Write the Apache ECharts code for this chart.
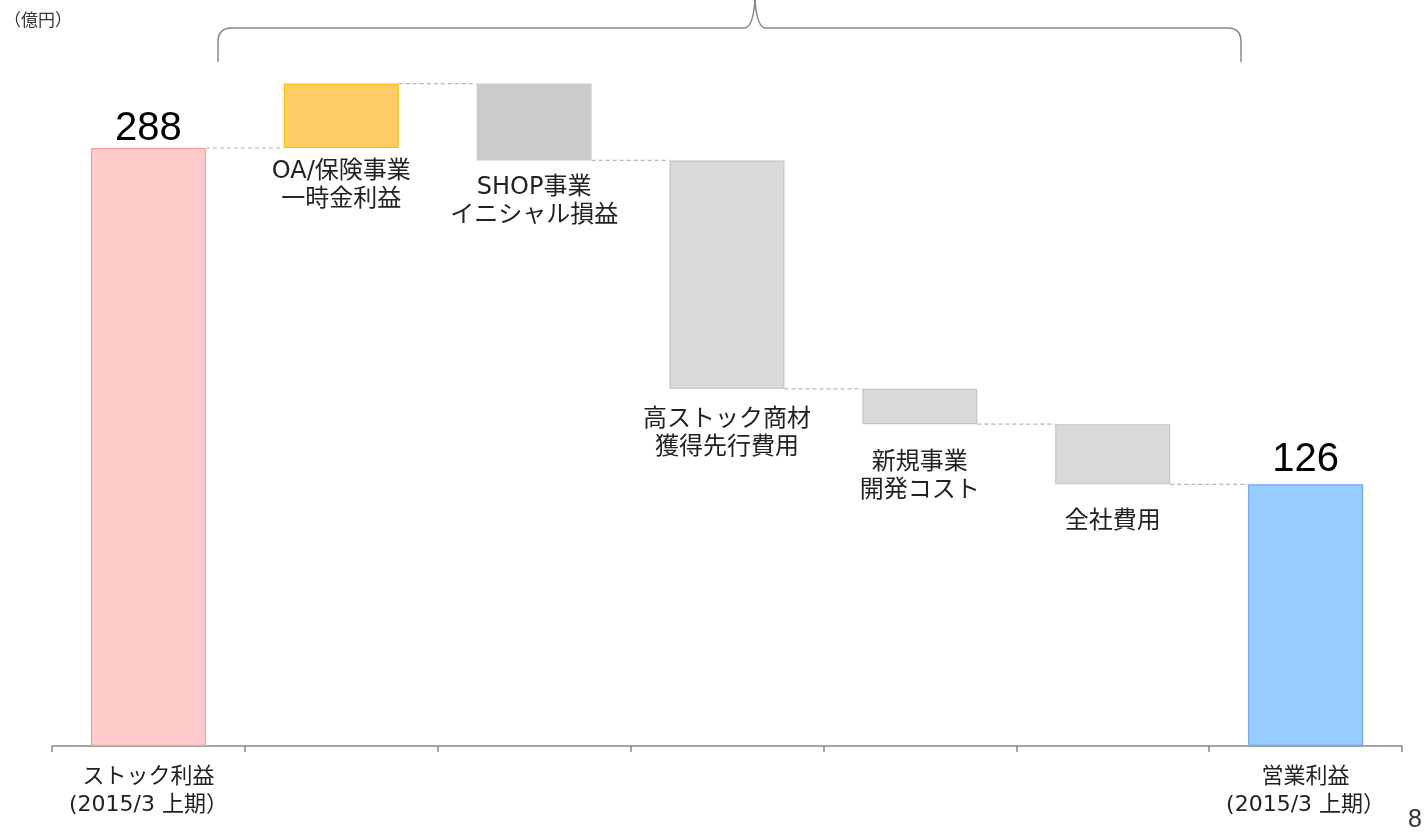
<!DOCTYPE html>
<html>
<head>
<meta charset="utf-8">
<script src="https://cdn.jsdelivr.net/npm/echarts@6/dist/echarts.min.js"></script>
<style>
  html, body { margin: 0; padding: 0; background: #fff; }
  #chart { width: 1428px; height: 839px; }
</style>
</head>
<body>
<div id="chart"></div>
<script>
// Operating profit bridge (億円)
const categories = ['ストック利益\n(2015/3 上期）', 'OA/保険事業\n一時金利益', 'SHOP事業\nイニシャル損益',
  '高ストック商材\n獲得先行費用', '新規事業\n開発コスト', '全社費用', '営業利益\n(2015/3 上期）'];
const startValue = 288;
const deltas = [31, -37, -110, -17, -29];
const endValue = 126;

const fills = ['#ffcccc', '#ffcc66', '#cbcbcb', '#d9d9d9', '#d9d9d9', '#d9d9d9', '#99ccff'];
const borders = ['#ff9a9a', '#ffc000', '#cbcbcb', '#c4c4c4', '#c4c4c4', '#c4c4c4', '#6aa5ff'];
const labelGaps = [-1, 10, 13, 17, 25, 23, 4];

const TEXT_FONT = '"DejaVu Sans", "Noto Sans CJK JP", sans-serif';
const NUM_FONT = '"Liberation Sans", Arial, sans-serif';

// running totals after each step
const levels = [startValue];
deltas.forEach(d => levels.push(levels[levels.length - 1] + d));
levels.push(endValue);

const baseData = [];
const barData = [];
const n = categories.length;
for (let i = 0; i < n; i++) {
  const isEnd = i === 0 || i === n - 1;
  let base, height;
  if (isEnd) { base = 0; height = levels[i]; }
  else {
    const d = deltas[i - 1];
    base = d >= 0 ? levels[i - 1] : levels[i];
    height = Math.abs(d);
  }
  baseData.push(base);
  barData.push({
    value: height,
    itemStyle: { color: fills[i], borderColor: borders[i], borderWidth: 1.2 },
    label: isEnd ? {
      show: true, position: 'top', distance: labelGaps[i],
      formatter: String(levels[i]), fontSize: 40, color: '#000', fontFamily: NUM_FONT
    } : {
      show: true, position: 'bottom', distance: labelGaps[i],
      formatter: categories[i], fontSize: 24, lineHeight: 28, color: '#222', fontFamily: TEXT_FONT
    }
  });
}

// dashed connectors between adjacent bars
const connectorData = [];
for (let i = 0; i < n - 1; i++) connectorData.push([i, levels[i]]);

const BAR_W = 115;
const braceStyle = { stroke: '#888', lineWidth: 1.5, fill: 'none' };
const seg = (x1, y1, x2, y2) => ({ type: 'line', shape: { x1, y1, x2, y2 }, style: braceStyle });
const curve = (x1, y1, cpx1, cpy1, x2, y2) => ({ type: 'bezierCurve', shape: { x1, y1, cpx1, cpy1, x2, y2 }, style: braceStyle });

const chart = echarts.init(document.getElementById('chart'));
chart.setOption({
  animation: false,
  textStyle: { fontFamily: TEXT_FONT },
  grid: { left: 52, right: 26, top: 40, bottom: 93 },
  xAxis: {
    type: 'category',
    data: categories,
    axisLine: { lineStyle: { color: '#888', width: 1.5 } },
    axisTick: { show: true, length: 6, lineStyle: { color: '#888', width: 1.5 } },
    axisLabel: {
      interval: 0, margin: 17, fontSize: 22, lineHeight: 28, color: '#222', fontFamily: TEXT_FONT,
      formatter: (v, idx) => (idx === 0 || idx === n - 1) ? v : ''
    }
  },
  yAxis: {
    type: 'value', min: 0, max: 340,
    show: false, splitLine: { show: false }
  },
  series: [
    {
      type: 'bar', stack: 'w', data: baseData, barWidth: BAR_W,
      itemStyle: { color: 'transparent' }, silent: true
    },
    {
      type: 'bar', stack: 'w', data: barData, barWidth: BAR_W
    },
    {
      type: 'custom',
      data: connectorData,
      renderItem: (params, api) => {
        const i = api.value(0);
        const p1 = api.coord([i, api.value(1)]);
        const p2 = api.coord([i + 1, api.value(1)]);
        return {
          type: 'line',
          shape: { x1: p1[0] + BAR_W / 2, y1: p1[1], x2: p2[0] - BAR_W / 2, y2: p2[1] },
          style: { stroke: '#b8b8b8', lineWidth: 1.2, lineDash: [4, 3] }
        };
      }
    }
  ],
  graphic: [
    {
      type: 'text', left: 4, top: 11,
      style: { text: '（億円）', fontSize: 17, fill: '#333', fontFamily: '"Noto Sans CJK JP", sans-serif' }
    },
    {
      type: 'text', left: 1408, top: 808,
      style: { text: '8', fontSize: 25, fill: '#333', fontFamily: NUM_FONT }
    },
    // brace spanning the intermediate steps
    seg(218, 62, 218, 42),
    curve(218, 42, 218, 28, 232, 28),
    seg(232, 28, 745, 28),
    curve(745, 28, 753, 27, 755, 0),
    curve(755, 0, 757, 27, 765, 28),
    seg(765, 28, 1228, 28),
    curve(1228, 28, 1241, 28, 1241, 42),
    seg(1241, 42, 1241, 62)
  ]
});
</script>
</body>
</html>
